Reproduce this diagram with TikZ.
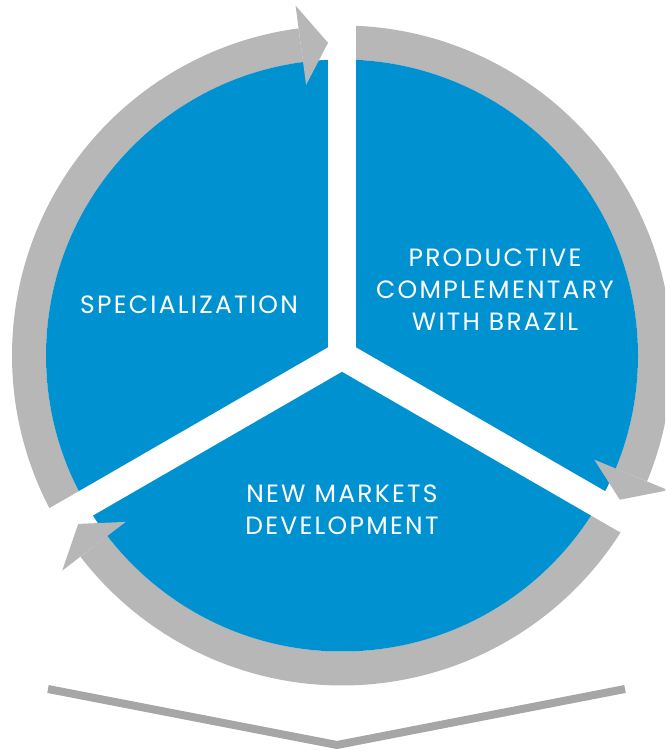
\documentclass[tikz,border=0pt]{standalone}
\usepackage{fontspec}
\setmainfont{Poppins}[LetterSpace=9]
\usetikzlibrary{calc}
\definecolor{discblue}{RGB}{0,146,208}
\definecolor{ringgray}{RGB}{183,183,183}
\definecolor{chevgray}{RGB}{166,166,166}
\tikzset{
  ringarc/.style={draw=ringgray, line width=34pt, line cap=butt},
  arrowtip/.style={fill=ringgray},
  sepbar/.style={fill=white},
  label/.style={text=white, align=center, font=\fontsize{25}{32}\selectfont, inner sep=0pt},
  chevron/.style={draw=chevgray, line width=8pt, line cap=butt, line join=miter}
}
\begin{document}
\begin{tikzpicture}[x=1pt,y=1pt]
\useasboundingbox (0,0) rectangle (665,751);
\clip (0,0) rectangle (665,751);
\coordinate (c) at (342,395.5);
% gray ring arcs
\draw[ringarc] ($(c)+(90:313)$) arc[start angle=90, end angle=-22.44, radius=313];
\draw[ringarc] ($(c)+(330:313)$) arc[start angle=330, end angle=217.56, radius=313];
\draw[ringarc] ($(c)+(210:313)$) arc[start angle=210, end angle=97.56, radius=313];
% blue disc
\fill[discblue] (c) circle[radius=296];
% arrowheads
\fill[arrowtip] ($(c)+(-22.44:273)$) -- ($(c)+(-27.44:313)$) -- ($(c)+(-22.44:353)$) -- cycle;
\fill[arrowtip] ($(c)+(217.56:273)$) -- ($(c)+(212.56:313)$) -- ($(c)+(217.56:353)$) -- cycle;
\fill[arrowtip] ($(c)+(97.56:273)$) -- ($(c)+(92.56:313)$) -- ($(c)+(97.56:353)$) -- cycle;
% white separator bars
\foreach \a in {90,210,330}{
  \fill[sepbar, rotate around={\a:(c)}] ($(c)+(0,-14)$) rectangle ++(420,28);
}
% labels
\node[label] (spec) at (189,446) {SPECIALIZATION};
\node[label] (prod) at (495,461) {PRODUCTIVE\\COMPLEMENTARY\\WITH BRAZIL};
\node[label] (newm) at (342,241) {NEW MARKETS\\DEVELOPMENT};
% chevron
\coordinate (chl) at (48,62);
\coordinate (chv) at (337,6);
\coordinate (chr) at (625,62);
\draw[chevron] (chl) -- (chv) -- (chr);
\end{tikzpicture}
\end{document}
